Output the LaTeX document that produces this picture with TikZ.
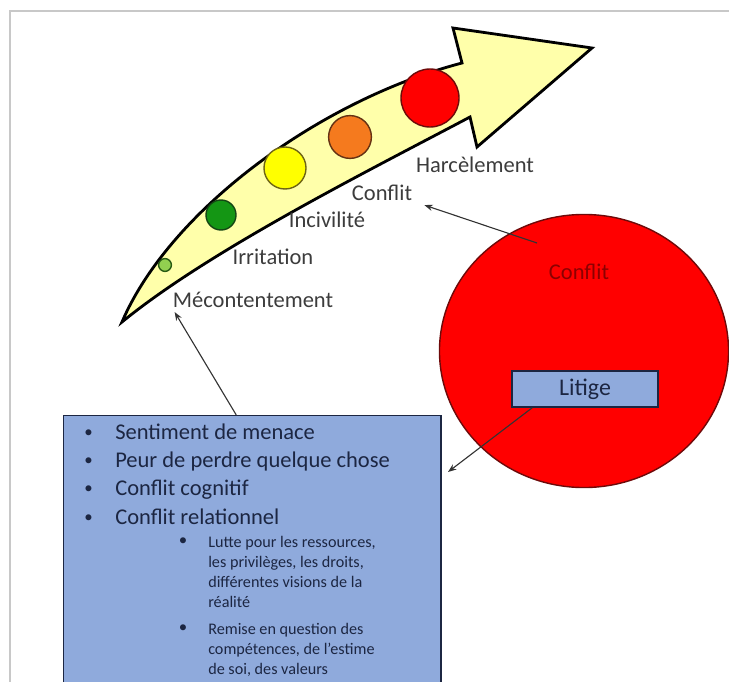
\documentclass[tikz,border=0pt]{standalone}
\usepackage{fontspec}
\setmainfont{Carlito}
\usetikzlibrary{arrows.meta, calc, positioning, shapes.geometric}
\definecolor{arrowyellow}{RGB}{255,255,170}
\definecolor{boxblue}{RGB}{143,170,220}
\definecolor{navytext}{RGB}{28,38,66}
\definecolor{labelgrey}{RGB}{60,60,60}
\definecolor{conflictred}{RGB}{255,0,0}
\definecolor{darkred}{RGB}{110,10,10}
\definecolor{framegrey}{RGB}{200,200,200}
\newcommand{\smallbullet}[1]{\llap{\raisebox{1.2pt}{\fontsize{12}{12}\selectfont\textbullet}\hspace{#1}}}
\tikzstyle{stage_dot}=[circle, draw, line width=1pt, inner sep=0]
\tikzstyle{stage_label}=[text=labelgrey, font=\fontsize{16}{18}\selectfont, inner sep=0]
\tikzstyle{info_box}=[rectangle, draw=navytext, fill=boxblue, line width=1pt]
\tikzstyle{main_item}=[anchor=base west, text=navytext, font=\fontsize{16}{18}\selectfont, inner sep=0]
\tikzstyle{sub_item}=[anchor=north west, align=left, text=navytext, font=\fontsize{11.5}{14.2}\selectfont, inner sep=0]
\tikzstyle{link}=[-{Stealth[length=6pt,width=4.5pt]}, line width=0.8pt, draw=black!80]

\begin{document}
\begin{tikzpicture}[x=0.025cm, y=-0.025cm]
\useasboundingbox (0,0) rectangle (729,682);

% frame of the slide
\draw[framegrey, line width=1.6pt] (10,682) -- (10,11) -- (729,11);

% curved escalation arrow
\draw[fill=arrowyellow, line width=2pt] (122,322) .. controls (170,210) and (320,100) .. (462,63)
    -- (453,28) -- (592,48) -- (477,147) -- (470,117)
    .. controls (370,170) and (210,250) .. cycle;

% stages on the arrow
\node [stage_dot, fill={rgb,255:red,146;green,208;blue,80}, draw={rgb,255:red,40;green,90;blue,20},
       minimum size=0.32cm] (dot_discontent) at (165,265) {};
\node [stage_dot, fill={rgb,255:red,20;green,150;blue,20}, draw={rgb,255:red,20;green,70;blue,20},
       minimum size=0.75cm] (dot_irritation) at (221,215) {};
\node [stage_dot, fill={rgb,255:red,255;green,255;blue,0}, draw={rgb,255:red,110;green,100;blue,20},
       minimum size=1.05cm] (dot_incivility) at (285,168) {};
\node [stage_dot, fill={rgb,255:red,245;green,122;blue,30}, draw={rgb,255:red,100;green,50;blue,20},
       minimum size=1.07cm] (dot_conflict) at (350,137) {};
\node [stage_dot, fill=conflictred, draw=darkred,
       minimum size=1.45cm] (dot_harassment) at (430,98) {};

% stage labels
\node [stage_label] (lbl_harassment) at (475,165) {Harcèlement};
\node [stage_label] (lbl_conflict)   at (382,193) {Conflit};
\node [stage_label] (lbl_incivility) at (327,220) {Incivilité};
\node [stage_label] (lbl_irritation) at (273,257) {Irritation};
\node [stage_label] (lbl_discontent) at (253,300) {Mécontentement};

% conflict zone
\node [ellipse, fill=conflictred, draw=darkred, line width=1pt, inner sep=0,
       minimum width=7.225cm, minimum height=6.825cm] (conflict_zone) at (584,351) {};
\node [text={rgb,255:red,140;green,0;blue,0}, font=\fontsize{16}{18}\selectfont]
      (conflict_title) at ($(conflict_zone.center)+(-5,-79)$) {Conflit};
\node [info_box, minimum width=3.65cm, minimum height=0.9cm, text=navytext,
       font=\fontsize{17}{20}\selectfont] (litige) at (585,389) {Litige};

% causes box
\node [info_box, anchor=north west, minimum width=9.425cm, minimum height=7.2cm]
      (menace_box) at (63,415) {};
\node [main_item] (item_menace)    at (115,439) {\smallbullet{16pt}Sentiment de menace};
\node [main_item] (item_peur)      at (115,467) {\smallbullet{16pt}Peur de perdre quelque chose};
\node [main_item] (item_cognitif)  at (115,495) {\smallbullet{16pt}Conflit cognitif};
\node [main_item] (item_relation)  at (115,524) {\smallbullet{16pt}Conflit relationnel};
\node [sub_item] (sub_lutte) at (208,536)
      {\smallbullet{15pt}Lutte pour les ressources,\\les privilèges, les droits,\\différentes visions de la\\réalité};
\node [sub_item] (sub_remise) at (208,623)
      {\smallbullet{15pt}Remise en question des\\compétences, de l’estime\\de soi, des valeurs};

% connectors
\coordinate (litige_tip) at (448,472);
\draw[link] ($(menace_box.north)+(-16,0)$) -- ($(lbl_discontent.south west)+(2,4)$);
\draw[link] ($(conflict_zone.center)+(-47,-108)$) -- ($(lbl_conflict.south east)+(12,4)$);
\draw[link] ($(litige.south west)+(21,0)$) -- (litige_tip);

\end{tikzpicture}
\end{document}
